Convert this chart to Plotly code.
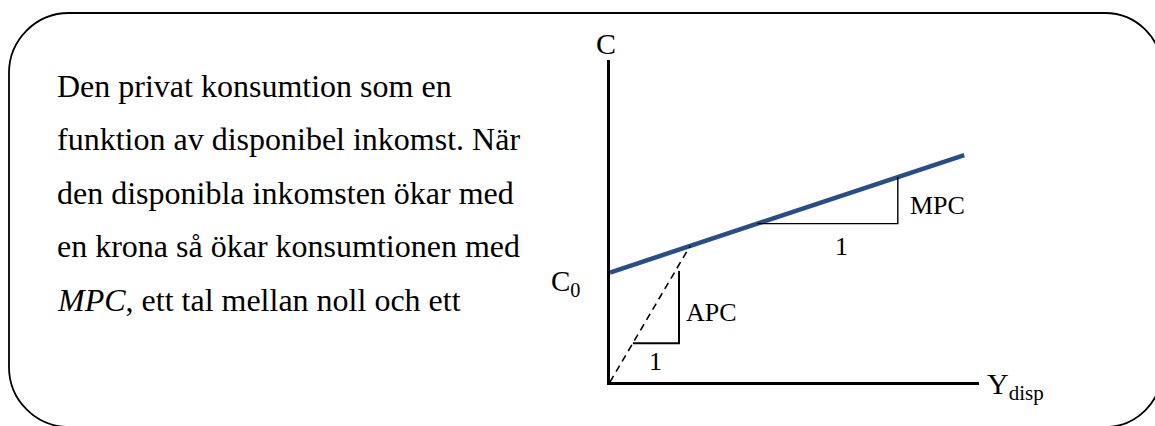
import plotly.graph_objects as go

# Consumption function C = C0 + MPC * Y_disp (schematic units)
C0 = 34.0
MPC = 0.38
Y_END = 96.0            # where the consumption line stops
Y_RAY = 21.7            # point on the line reached by the dashed ray from the origin
MPC_STEP = [40.0, 78.0]  # horizontal leg of the MPC triangle
APC_STEP = [6.2, 18.7]   # horizontal leg of the APC triangle
APC_TOP = 34.5           # top of the APC triangle's vertical leg
AXIS_MAX = 100.0

body_lines = [
    "Den privat konsumtion som en",
    "funktion av disponibel inkomst. När",
    "den disponibla inkomsten ökar med",
    "en krona så ökar konsumtionen med",
    "<i>MPC</i>, ett tal mellan noll och ett",
]

W, H = 1155, 426
FONT = "Liberation Serif, Times New Roman, serif"
BLUE = "#274E87"


def cons(y):
    return C0 + MPC * y


apc = cons(Y_RAY) / Y_RAY

fig = go.Figure()

# consumption line
fig.add_trace(go.Scatter(x=[0, Y_END], y=[cons(0), cons(Y_END)], mode="lines",
                         line=dict(color=BLUE, width=4.5), hoverinfo="skip"))
# dashed ray from the origin (average propensity)
fig.add_trace(go.Scatter(x=[0, Y_RAY], y=[0, cons(Y_RAY)], mode="lines",
                         line=dict(color="black", width=1.6, dash="7px,5px"), hoverinfo="skip"))
# MPC triangle
fig.add_trace(go.Scatter(x=[MPC_STEP[0], MPC_STEP[1], MPC_STEP[1]],
                         y=[cons(MPC_STEP[0]), cons(MPC_STEP[0]), cons(MPC_STEP[1])],
                         mode="lines", line=dict(color="black", width=1.4), hoverinfo="skip"))
# APC triangle
fig.add_trace(go.Scatter(x=[APC_STEP[0], APC_STEP[1], APC_STEP[1]],
                         y=[apc * APC_STEP[0], apc * APC_STEP[0], APC_TOP],
                         mode="lines", line=dict(color="black", width=2), hoverinfo="skip"))

# rounded frame (pixel geometry converted to paper units)
x0, x1, y0, y1 = 9, 1162, 13, 427
rl, rr = 60, 57
k = 0.5523


def P(px, py):
    return f"{px / W:.5f},{1 - py / H:.5f}"


path = (
    f"M {P(x0 + rl, y0)} L {P(x1 - rr, y0)} "
    f"C {P(x1 - rr + k * rr, y0)} {P(x1, y0 + rr - k * rr)} {P(x1, y0 + rr)} "
    f"L {P(x1, y1 - rr)} "
    f"C {P(x1, y1 - rr + k * rr)} {P(x1 - rr + k * rr, y1)} {P(x1 - rr, y1)} "
    f"L {P(x0 + rl, y1)} "
    f"C {P(x0 + rl - k * rl, y1)} {P(x0, y1 - rl + k * rl)} {P(x0, y1 - rl)} "
    f"L {P(x0, y0 + rl)} "
    f"C {P(x0, y0 + rl - k * rl)} {P(x0 + rl - k * rl, y0)} {P(x0 + rl, y0)} Z"
)
fig.add_shape(type="path", path=path, xref="paper", yref="paper",
              line=dict(color="black", width=1.8), fillcolor="rgba(0,0,0,0)")

ann = []
# body text
line_y = [86, 139, 193, 246, 300]
for txt, py in zip(body_lines, line_y):
    ann.append(dict(text=txt, xref="paper", yref="paper", x=55 / W, y=1 - py / H,
                    xanchor="left", yanchor="middle", showarrow=False,
                    font=dict(family=FONT, size=32, color="black")))


def lab(size):
    return dict(showarrow=False, font=dict(family=FONT, size=size, color="black"))


ann += [
    dict(text="C", x=0, y=AXIS_MAX, xanchor="center", yanchor="bottom", xshift=-4, yshift=-2, **lab(30)),
    dict(text="C<sub>0</sub>", x=0, y=C0, xanchor="right", yanchor="middle", xshift=-28, yshift=-10, **lab(29)),
    dict(text="Y<sub>disp</sub>", x=AXIS_MAX, y=0, xanchor="left", yanchor="middle", xshift=6, yshift=-4, **lab(30)),
    dict(text="MPC", x=MPC_STEP[1], y=(cons(MPC_STEP[0]) + cons(MPC_STEP[1])) / 2,
         xanchor="left", yanchor="middle", xshift=10, yshift=-5, **lab(26)),
    dict(text="1", x=sum(MPC_STEP) / 2, y=cons(MPC_STEP[0]), xanchor="center", yanchor="top",
         xshift=14, yshift=-6, **lab(26)),
    dict(text="APC", x=APC_STEP[1], y=(apc * APC_STEP[0] + APC_TOP) / 2,
         xanchor="left", yanchor="middle", xshift=5, yshift=-5, **lab(26)),
    dict(text="1", x=sum(APC_STEP) / 2, y=apc * APC_STEP[0], xanchor="center", yanchor="top",
         yshift=-2, **lab(26)),
]

axis_common = dict(showgrid=False, zeroline=False, showticklabels=False, ticks="",
                   showline=True, linecolor="black", linewidth=2.5, fixedrange=True)
fig.update_layout(
    width=W, height=H, margin=dict(l=0, r=0, t=0, b=0),
    paper_bgcolor="white", plot_bgcolor="white", showlegend=False,
    xaxis=dict(domain=[610 / W, 979 / W], range=[0, AXIS_MAX], **axis_common),
    yaxis=dict(domain=[1 - 382 / H, 1 - 60 / H], range=[0, AXIS_MAX], **axis_common),
    annotations=ann,
)

fig.write_html("out.html")
